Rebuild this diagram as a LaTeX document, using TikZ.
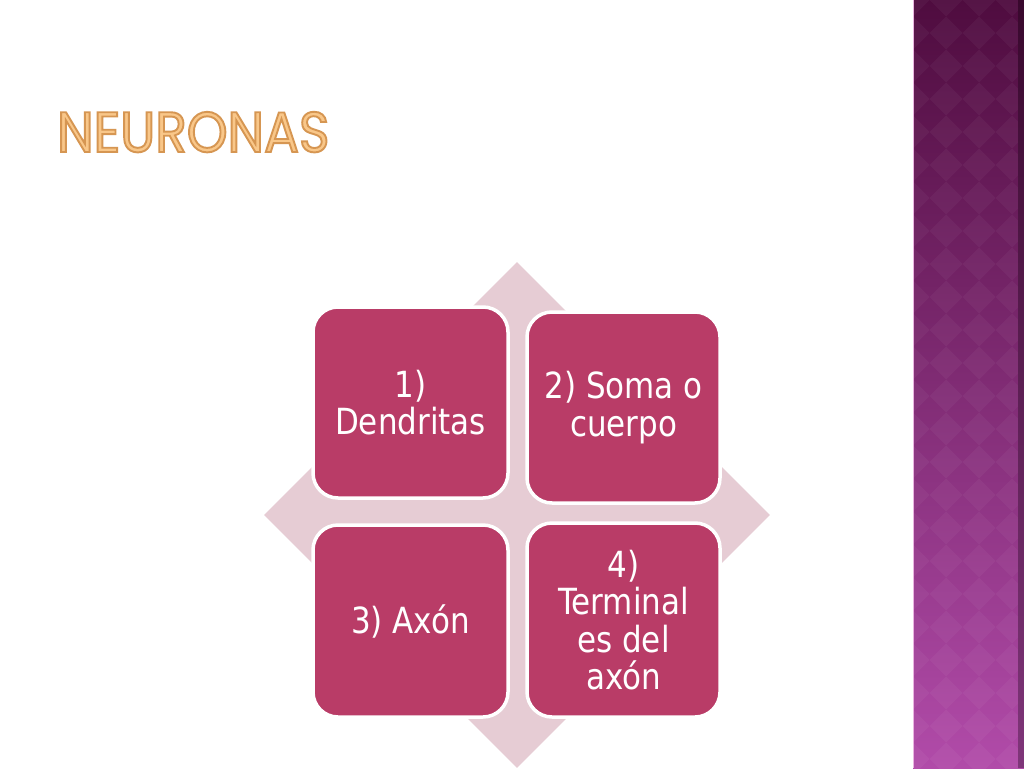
\documentclass[tikz,border=0pt]{standalone}
\usepackage{fontspec}
\setmainfont{DejaVu Sans}[FakeStretch=0.86]
\newfontfamily\titlefont{Poppins}[FakeStretch=0.91]
\usetikzlibrary{shapes.geometric}
\definecolor{boxfill}{HTML}{B93C67}
\definecolor{diafill}{HTML}{E6CCD4}
\definecolor{bartop}{HTML}{4F0C3F}
\definecolor{barbot}{HTML}{B14BA9}
\definecolor{titlefill}{HTML}{F9C789}
\definecolor{barhl}{HTML}{E9B5E0}
\newcommand{\outlinedtext}[1]{\special{pdf:literal direct 2 Tr 1.9 w 0.84 0.59 0.32 RG}#1\special{pdf:literal direct 0 Tr}}
\tikzset{
  cell/.style={rounded corners=25pt, fill=boxfill, draw=white, line width=3.5pt,
    text=white, align=center, inner sep=0pt,
    font=\fontsize{36}{37.5}\selectfont},
  titletext/.style={anchor=base west, inner sep=0pt,
    font=\titlefont\fontsize{57}{57}\selectfont},
}
\begin{document}
\begin{tikzpicture}[x=1pt,y=-1pt]
\useasboundingbox (0,0) rectangle (1024,768);
\fill[white] (0,0) rectangle (1024,768);
% right bar
\shade[top color=bartop, bottom color=barbot] (913,0) rectangle (1024,768);
\begin{scope}
  \clip (914,0) rectangle (1018,768);
  \foreach \i in {0,...,4}{
    \foreach \j in {0,...,24}{
      \fill[white, opacity=0.04] (913+33*\i,33*\j-16.5) -- ++(16.5,16.5) -- ++(-16.5,16.5) -- ++(-16.5,-16.5) -- cycle;
    }
  }
\end{scope}
\fill[black, opacity=0.28] (1018,0) rectangle (1024,768);
\draw[barhl, line width=1.2pt] (913.6,0) -- (913.6,768);
% title
\node[titletext, text=titlefill] (title) at (57,152) {\outlinedtext{NEURONAS}};
% background diamond
\node[diamond, aspect=1, fill=diafill, inner sep=0pt, minimum width=506pt, minimum height=506pt] (dia) at (517,515) {};
% boxes
\node[cell, minimum width=195pt, minimum height=191pt] (b1) at (410.5,402.5) {1)\\Dendritas};
\node[cell, minimum width=193pt, minimum height=191pt] (b2) at (623.5,407.5) {2) Soma o\\cuerpo};
\node[cell, minimum width=195pt, minimum height=192pt] (b3) at (410.5,621) {3) Axón};
\node[cell, minimum width=193pt, minimum height=194pt] (b4) at (623.5,620) {4)\\Terminal\\es del\\axón};
\end{tikzpicture}
\end{document}
